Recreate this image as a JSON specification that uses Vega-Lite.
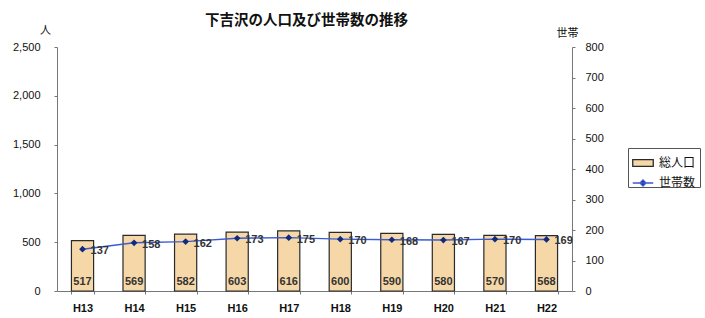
{
  "$schema": "https://vega.github.io/schema/vega-lite/v6.json",
  "width": 515,
  "height": 244,
  "autosize": "none",
  "padding": {"left": 57, "top": 47, "right": 133, "bottom": 27},
  "background": "white",
  "title": {
    "text": "下吉沢の人口及び世帯数の推移",
    "font": "Noto Sans CJK JP",
    "fontSize": 14.5,
    "fontWeight": "bold",
    "color": "#111",
    "anchor": "middle",
    "dx": -8,
    "dy": 12,
    "offset": 8
  },
  "config": {
    "view": {"stroke": null},
    "axis": {
      "labelFont": "Liberation Sans",
      "labelFontSize": 11,
      "labelColor": "#111",
      "domainColor": "#777",
      "tickColor": "#777",
      "grid": false,
      "titleFont": "Noto Sans CJK JP",
      "titleFontSize": 11,
      "titleFontWeight": "normal",
      "titleColor": "#111"
    },
    "legend": {
      "labelFont": "Noto Sans CJK JP",
      "labelFontSize": 12,
      "labelColor": "#111",
      "symbolSize": 420,
      "symbolStrokeWidth": 1.3,
      "labelOffset": 5,
      "rowPadding": 2
    }
  },
  "data": {
    "values": [
      {"year": "H13", "pop": 517, "hh": 137},
      {"year": "H14", "pop": 569, "hh": 158},
      {"year": "H15", "pop": 582, "hh": 162},
      {"year": "H16", "pop": 603, "hh": 173},
      {"year": "H17", "pop": 616, "hh": 175},
      {"year": "H18", "pop": 600, "hh": 170},
      {"year": "H19", "pop": 590, "hh": 168},
      {"year": "H20", "pop": 580, "hh": 167},
      {"year": "H21", "pop": 570, "hh": 170},
      {"year": "H22", "pop": 568, "hh": 169}
    ]
  },
  "encoding": {
    "x": {
      "field": "year",
      "type": "nominal",
      "sort": null,
      "scale": {"paddingInner": 0.57, "paddingOuter": 0.28},
      "axis": {
        "title": null,
        "labelAngle": 0,
        "labelPadding": 8,
        "labelFontWeight": "bold",
        "labelFontSize": 11,
        "tickBand": "extent",
        "tickSize": 3
      }
    }
  },
  "layer": [
    {
      "encoding": {
        "y": {
          "field": "pop",
          "type": "quantitative",
          "scale": {"domain": [0, 2500]},
          "axis": {
            "title": "人",
            "titleAngle": 0,
            "titleX": -12,
            "titleY": -12,
            "titleAlign": "center",
            "titleBaseline": "bottom",
            "labelExpr": "format(datum.value, ',')",
            "values": [0, 500, 1000, 1500, 2000, 2500],
            "tickSize": 3,
            "labelPadding": 14
          }
        }
      },
      "layer": [
        {
          "mark": {"type": "bar", "stroke": "#2a2a2a", "strokeWidth": 1.2},
          "encoding": {
            "fill": {
              "datum": "総人口",
              "type": "nominal",
              "scale": {"domain": ["総人口"], "range": ["#f6d8a8"]},
              "legend": {
                "title": " ",
                "titleOrient": "bottom",
                "titleFontSize": 12,
                "titlePadding": 3,
                "orient": "none",
                "legendX": 571,
                "legendY": 101,
                "strokeColor": "#555",
                "padding": 4,
                "symbolType": "M-1,-0.33H1V0.33H-1Z",
                "symbolStrokeColor": "#2a2a2a",
                "symbolOpacity": 1
              }
            }
          }
        },
        {
          "mark": {
            "type": "text",
            "baseline": "bottom",
            "dy": -4,
            "font": "Liberation Sans",
            "fontSize": 11,
            "fontWeight": "bold",
            "color": "#333"
          },
          "encoding": {
            "y": {"datum": 0, "type": "quantitative"},
            "text": {"field": "pop", "type": "quantitative"}
          }
        }
      ]
    },
    {
      "encoding": {
        "y": {
          "field": "hh",
          "type": "quantitative",
          "scale": {"domain": [0, 800]},
          "axis": {
            "orient": "right",
            "title": "世帯",
            "titleAngle": 0,
            "titleX": -5,
            "titleY": -9,
            "titleAlign": "center",
            "titleBaseline": "bottom",
            "values": [0, 100, 200, 300, 400, 500, 600, 700, 800],
            "tickSize": 3,
            "labelPadding": 10
          }
        }
      },
      "layer": [
        {
          "mark": {"type": "line", "strokeWidth": 1.4},
          "encoding": {
            "stroke": {
              "datum": "世帯数",
              "type": "nominal",
              "scale": {"domain": ["世帯数"], "range": ["#3c5bd0"]},
              "legend": {
                "title": null,
                "orient": "none",
                "legendX": 571,
                "legendY": 121,
                "padding": 4,
                "symbolType": "M-1,0H1M0,-0.3L0.3,0L0,0.3L-0.3,0Z",
                "symbolFillColor": "#102a80",
                "symbolOpacity": 1
              }
            }
          }
        },
        {
          "mark": {"type": "point", "shape": "diamond", "filled": true, "color": "#102a80", "size": 45, "opacity": 1}
        },
        {
          "mark": {
            "type": "text",
            "align": "left",
            "baseline": "middle",
            "dx": 8,
            "dy": 2,
            "font": "Liberation Sans",
            "fontSize": 11,
            "fontWeight": "bold",
            "color": "#333"
          },
          "encoding": {
            "text": {"field": "hh", "type": "quantitative"}
          }
        }
      ]
    }
  ],
  "resolve": {"scale": {"y": "independent"}}
}
